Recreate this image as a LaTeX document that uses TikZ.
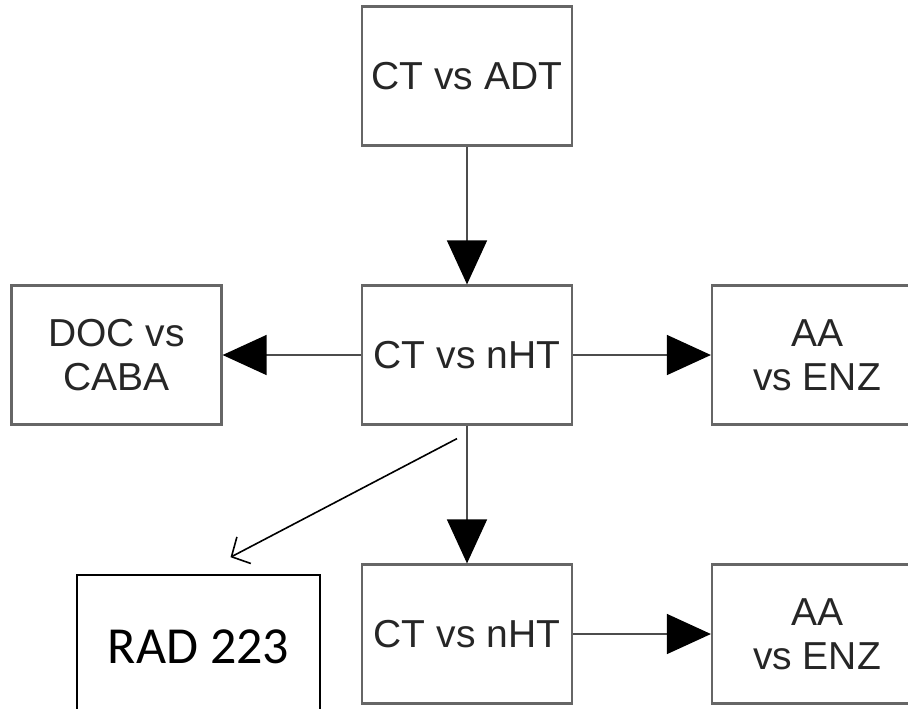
\documentclass[tikz,border=0pt]{standalone}
\usepackage{fontspec}
\setmainfont{Liberation Sans}
\newfontfamily\radfont{Carlito}
\usetikzlibrary{arrows.meta,calc}
\tikzset{flow/.style={draw=black!70, line width=0.7pt, -{Triangle[length=22pt, width=20pt, black]}},
  blk/.style={draw=black!60, line width=1.1pt, minimum width=105pt, minimum height=69.5pt,
    align=center, text=black!85, font=\fontsize{19.5}{22}\selectfont},
  radblk/.style={draw=black, line width=0.8pt, minimum width=121.5pt, minimum height=72pt,
    font=\radfont\fontsize{26}{30}\selectfont},
  thin/.style={draw=black, line width=0.8pt, -{Straight Barb[length=7pt, width=15pt]}}}

\begin{document}
\begin{tikzpicture}[x=0.5pt, y=-0.5pt]
  \useasboundingbox (0,0) rectangle (908,708);
  \clip (0,0) rectangle (908,708);
  \node[blk] (adt) at (467,76) {CT vs ADT};
  \node[blk] (nht) at (467,355) {CT vs nHT};
  \node[blk] (doc) at (116.5,355) {DOC vs\\CABA};
  \node[blk] (enz) at (817,355) {AA\\vs ENZ};
  \node[blk] (nhtb) at (467,634) {CT vs nHT};
  \node[blk] (enzb) at (817,634) {AA\\vs ENZ};
  \node[radblk] (rad) at (198.5,647) {RAD 223};
  % main chain
  \draw[flow] (adt) -- (nht);
  \draw[flow] (nht) -- (doc);
  \draw[flow] (nht) -- (enz);
  \draw[flow] (nht) -- (nhtb);
  \draw[flow] (nhtb) -- (enzb);
  % side note
  \coordinate (from) at ($(nht.south)+(-10,13)$);
  \coordinate (to) at ($(rad.north)+(32,-17)$);
  \draw[thin] (from) -- (to);
\end{tikzpicture}
\end{document}
